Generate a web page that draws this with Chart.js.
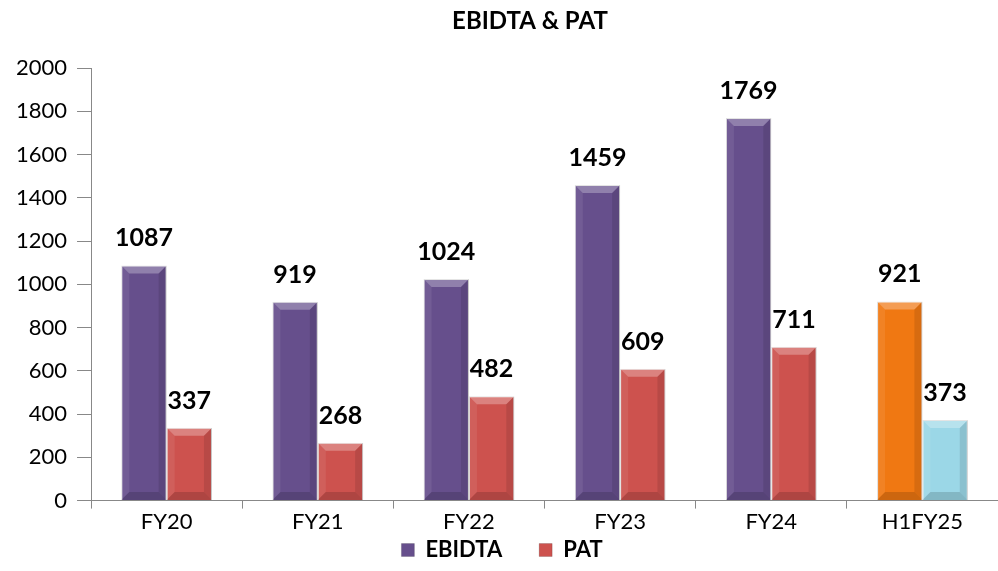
<!DOCTYPE html>
<html>
<head>
<meta charset="utf-8">
<script src="https://cdn.jsdelivr.net/npm/chart.js@4.4.1/dist/chart.umd.min.js"></script>
<style>
  body { margin: 0; background: #fff; }
  #wrap { width: 998px; height: 571px; }
</style>
</head>
<body>
<div id="wrap"><canvas id="myChart"></canvas></div>
<script>
const categories = ['FY20', 'FY21', 'FY22', 'FY23', 'FY24', 'H1FY25']
const ebidta = [1087, 919, 1024, 1459, 1769, 921]
const pat = [337, 268, 482, 609, 711, 373]
const yTicks = [0, 200, 400, 600, 800, 1000, 1200, 1400, 1600, 1800, 2000]

const FONT = 'Lato, "Open Sans", sans-serif'

// last category is highlighted in other colours
const ebidtaColor = (c) => c.dataIndex === 5 ? '#f07812' : '#664f8c'
const patColor = (c) => c.dataIndex === 5 ? '#9bd7e7' : '#cd524e'

// light bevel on top of each bar, like the office 3d look
const bevel = {
  id: 'bevel',
  afterDatasetsDraw(chart) {
    const ctx = chart.ctx
    chart.data.datasets.forEach((ds, i) => {
      chart.getDatasetMeta(i).data.forEach((bar) => {
        const w = bar.width, l = bar.x - w / 2, r = bar.x + w / 2
        const t = bar.y, b = bar.base, s = 8
        ctx.save()
        ctx.fillStyle = 'rgba(255,255,255,0.28)'
        ctx.beginPath()
        ctx.moveTo(l, t); ctx.lineTo(r, t); ctx.lineTo(r - s, t + s); ctx.lineTo(l + s, t + s)
        ctx.fill()
        ctx.fillStyle = 'rgba(255,255,255,0.08)'
        ctx.beginPath()
        ctx.moveTo(l, t); ctx.lineTo(l + s, t + s); ctx.lineTo(l + s, b - s); ctx.lineTo(l, b)
        ctx.fill()
        ctx.fillStyle = 'rgba(0,0,0,0.10)'
        ctx.beginPath()
        ctx.moveTo(r, t); ctx.lineTo(r - s, t + s); ctx.lineTo(r - s, b - s); ctx.lineTo(r, b)
        ctx.fill()
        ctx.fillStyle = 'rgba(0,0,0,0.15)'
        ctx.beginPath()
        ctx.moveTo(l, b); ctx.lineTo(r, b); ctx.lineTo(r - s, b - s); ctx.lineTo(l + s, b - s)
        ctx.fill()
        ctx.restore()
      })
    })
  }
}

const valueLabels = {
  id: 'valueLabels',
  afterDatasetsDraw(chart) {
    const ctx = chart.ctx
    ctx.save()
    ctx.font = 'bold 25px ' + FONT
    ctx.fillStyle = '#000'
    ctx.textAlign = 'center'
    ctx.textBaseline = 'alphabetic'
    chart.data.datasets.forEach((ds, i) => {
      chart.getDatasetMeta(i).data.forEach((bar, j) => {
        ctx.fillText(ds.data[j], bar.x, bar.y - 19)
      })
    })
    ctx.restore()
  }
}

const titlePlugin = {
  id: 'titleText',
  afterDraw(chart) {
    const ctx = chart.ctx
    ctx.save()
    ctx.font = 'bold 24px ' + FONT
    ctx.fillStyle = '#000'
    ctx.textAlign = 'center'
    ctx.textBaseline = 'middle'
    ctx.fillText('EBIDTA & PAT', 530, 21)
    ctx.restore()
  }
}

const ctx = document.getElementById('myChart')

const chart = new Chart(ctx, {
  type: 'bar',
  data: {
    labels: categories,
    datasets: [{
      label: 'EBIDTA',
      data: ebidta,
      backgroundColor: ebidtaColor,
      borderColor: 'rgba(0,0,0,0.15)',
      borderWidth: 1
    }, {
      label: 'PAT',
      data: pat,
      backgroundColor: patColor,
      borderColor: 'rgba(0,0,0,0.15)',
      borderWidth: 1
    }]
  },
  options: {
    responsive: true,
    maintainAspectRatio: false,
    animation: false,
    datasets: {
      bar: { categoryPercentage: 0.6, barPercentage: 1 }
    },
    layout: { padding: { top: 68, right: 0, left: 6, bottom: 0 } },
    plugins: {
      legend: {
        position: 'bottom',
        labels: {
          color: '#000',
          font: { family: FONT, size: 22, weight: 'bold' },
          boxWidth: 13,
          boxHeight: 13,
          padding: 4,
          // wider gap between the two entries without growing the legend height
          generateLabels: (chart) => {
            const items = Chart.defaults.plugins.legend.labels.generateLabels(chart)
            items[0].text = items[0].text + '\u2002\u2002\u2002'
            return items
          }
        }
      },
      tooltip: { enabled: false },
      title: { display: false }
    },
    scales: {
      x: {
        grid: {
          offset: true,
          drawOnChartArea: false,
          color: '#888',
          tickLength: 8
        },
        border: { color: '#888', width: 1 },
        ticks: { color: '#000', font: { family: FONT, size: 22 }, padding: 0 }
      },
      y: {
        min: 0,
        max: 2000,
        afterBuildTicks: (axis) => { axis.ticks = yTicks.map(v => ({ value: v })) },
        grid: {
          drawOnChartArea: false,
          color: '#888',
          tickLength: 14
        },
        border: { color: '#888', width: 1 },
        ticks: {
          color: '#000',
          font: { family: FONT, size: 22 },
          padding: 10,
          callback: (v) => String(v)
        }
      }
    }
  },
  plugins: [bevel, valueLabels, titlePlugin]
})
</script>
</body>
</html>
